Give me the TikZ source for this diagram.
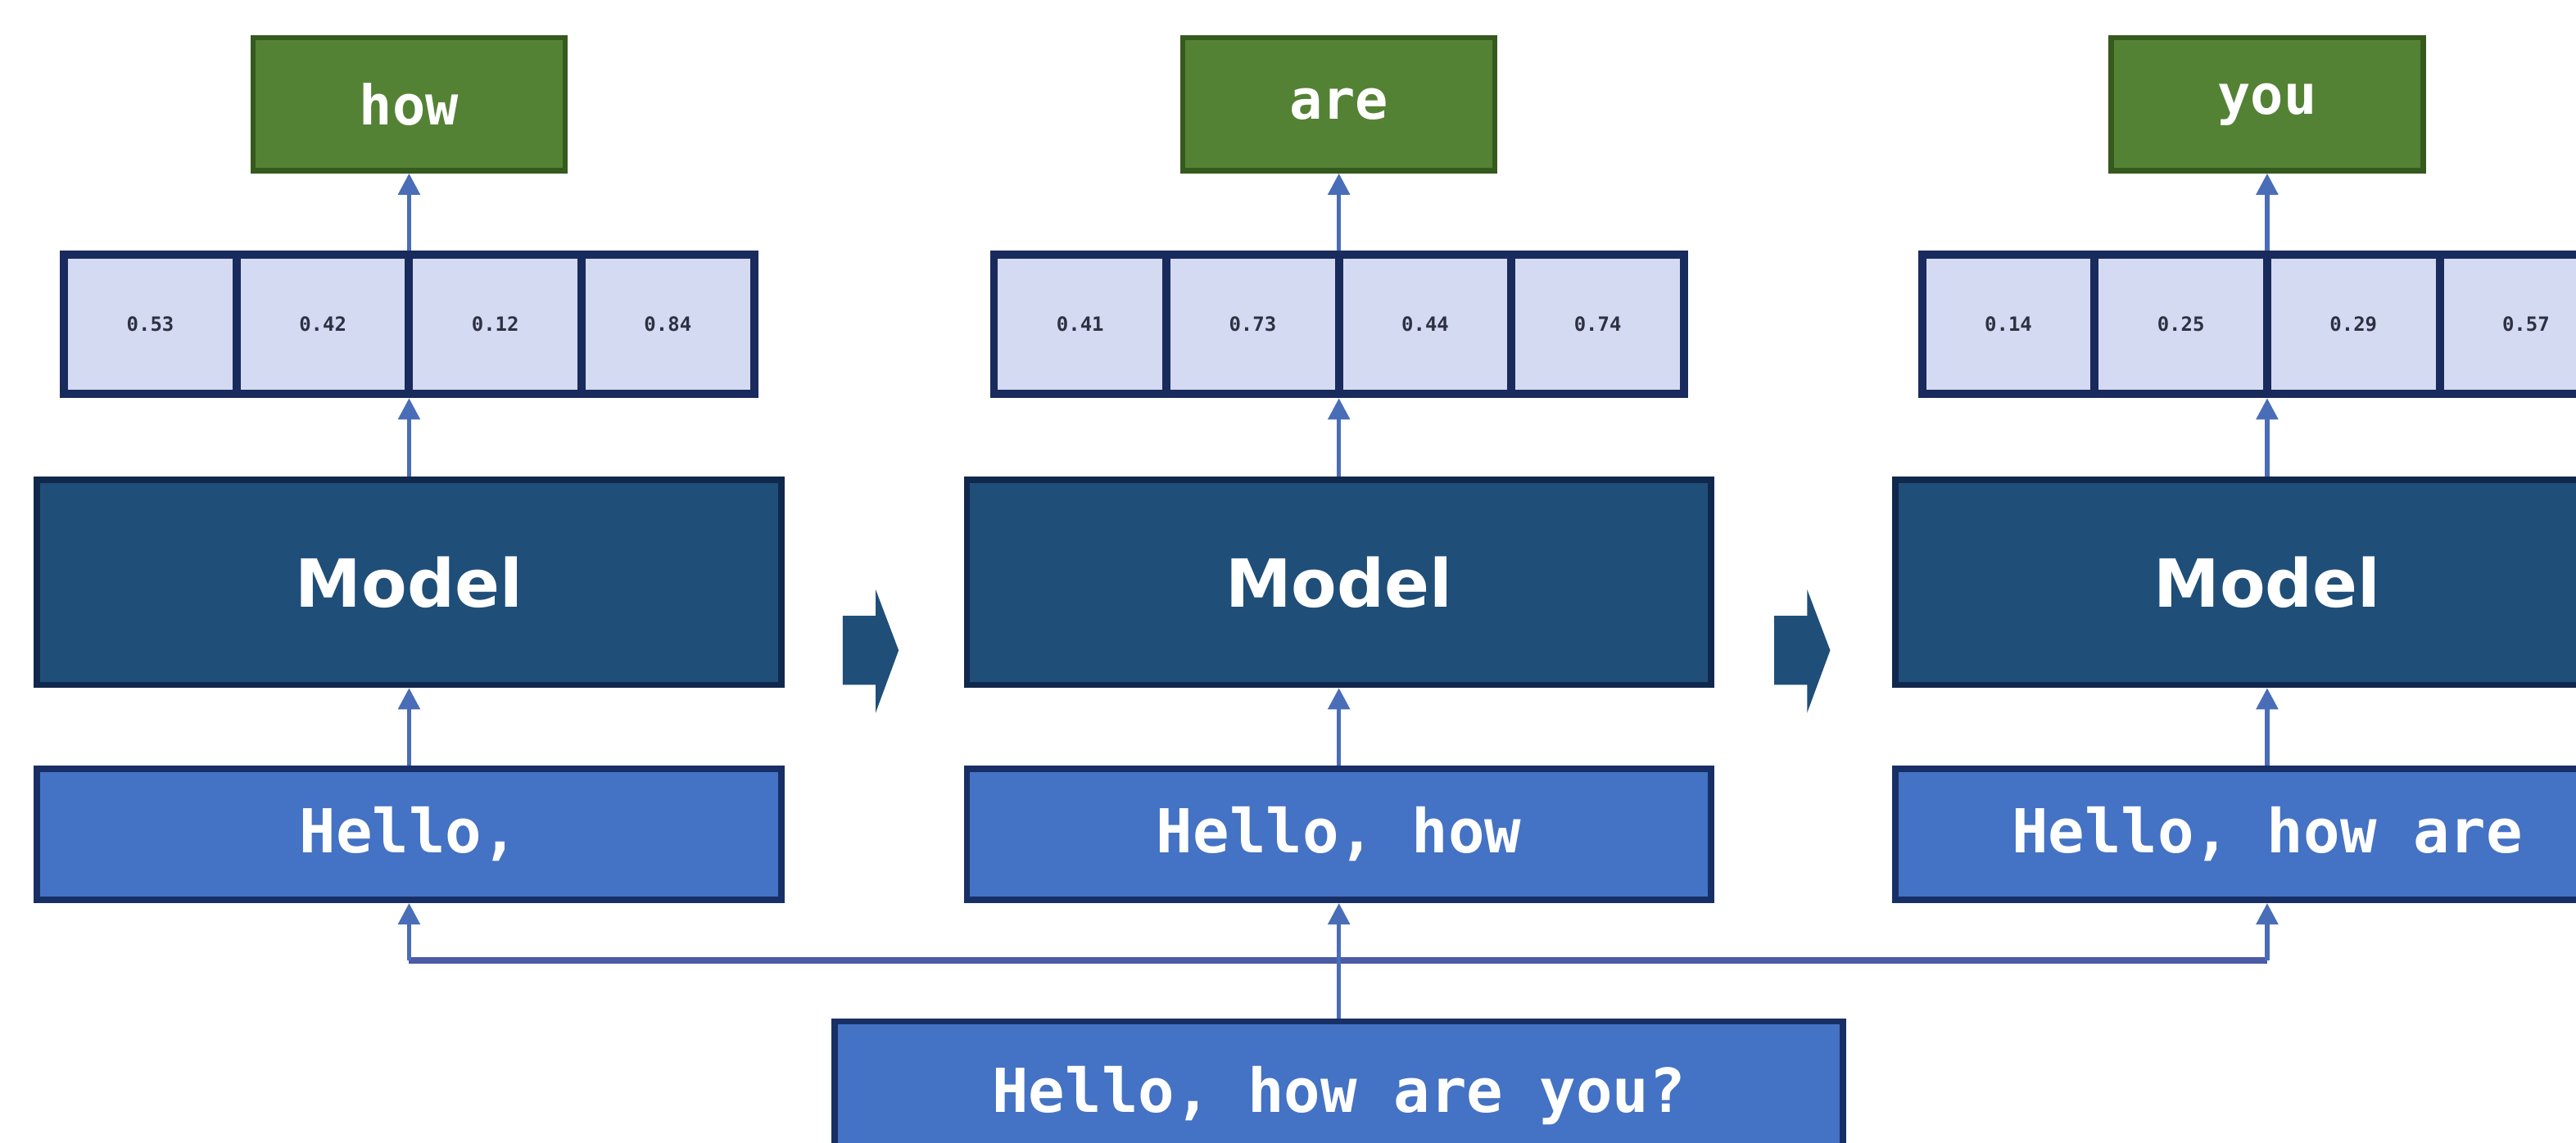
\documentclass[tikz,border=0pt]{standalone}
\usepackage{fontspec}
\setmainfont{DejaVu Sans}
\setmonofont{DejaVu Sans Mono}
\usetikzlibrary{arrows.meta}

\definecolor{modelfill}{HTML}{1F4E79}
\definecolor{modeledge}{HTML}{11284D}
\definecolor{infill}{HTML}{4472C4}
\definecolor{inedge}{HTML}{182F66}
\definecolor{outfill}{HTML}{548235}
\definecolor{outedge}{HTML}{365A1E}
\definecolor{cellfill}{HTML}{D3DAF2}
\definecolor{celledge}{HTML}{192A5C}
\definecolor{celltext}{HTML}{2E3142}
\definecolor{wire}{HTML}{4A6DB8}
\definecolor{buswire}{HTML}{4B5BA6}

\tikzset{
  modelbox/.style={draw=modeledge, line width=2.2pt, fill=modelfill, text=white,
    minimum width=9.06cm, minimum height=2.5cm, inner sep=0pt,
    font=\fontsize{23}{28}\selectfont\bfseries},
  inbox/.style={draw=inedge, line width=2.2pt, fill=infill, text=white,
    minimum width=9.06cm, minimum height=1.6cm, inner sep=0pt,
    font=\fontsize{21}{26}\selectfont\ttfamily\bfseries},
  outbox/.style={draw=outedge, line width=1.8pt, fill=outfill, text=white,
    minimum width=3.8cm, minimum height=1.62cm, inner sep=0pt,
    font=\fontsize{19}{23}\selectfont\ttfamily\bfseries},
  cellbox/.style={draw=celledge, line width=2.8pt, fill=cellfill, text=celltext,
    minimum width=2.1cm, minimum height=1.7cm, inner sep=0pt,
    font=\fontsize{6.8}{8}\selectfont\ttfamily\bfseries},
  arr/.style={draw=wire, line width=1.5pt, -{Triangle[length=0.26cm,width=0.26cm]}},
  bus/.style={draw=buswire, line width=2.2pt},
  stepper/.style={fill=modelfill}
}

\begin{document}
\begin{tikzpicture}[x=0.02cm, y=-0.02cm]
  \useasboundingbox (0,0) rectangle (1568,696);
  \clip (0,0) rectangle (1568,696);
  \fill[white] (0,0) rectangle (1568,696);

  % three decoding steps, one column each
  \foreach \k/\cx/\ctx/\tok/\va/\vb/\vc/\vd in {
      1/249/{Hello,}/how/0.53/0.42/0.12/0.84,
      2/815/{Hello, how}/are/0.41/0.73/0.44/0.74,
      3/1380/{Hello, how are}/you/0.14/0.25/0.29/0.57} {
    \node[outbox] (out\k) at (\cx,63.5) {\tok};
    \node[cellbox] (v\k a) at (\cx-157.5,197.5) {\va};
    \node[cellbox] (v\k b) at (\cx-52.5,197.5) {\vb};
    \node[cellbox] (v\k c) at (\cx+52.5,197.5) {\vc};
    \node[cellbox] (v\k d) at (\cx+157.5,197.5) {\vd};
    \node[modelbox] (m\k) at (\cx,354.5) {Model};
    \node[inbox] (in\k) at (\cx,508) {\ctx};
    \draw[arr] (in\k.north) -- (m\k.south);
    \draw[arr] (m\k.north) -- (m\k.north |- v\k b.south);
    \draw[arr] (out\k.south |- v\k b.north) -- (out\k.south);
  }

  % full sentence feeding every step
  \node[inbox, minimum width=12.28cm, minimum height=1.8cm] (full) at (815,667) {Hello, how are you?};
  \coordinate (busL) at (249,585);
  \coordinate (busR) at (1380,585);
  \draw[bus] (busL) -- (busR);
  \draw[arr] (busL) -- (in1.south);
  \draw[arr] (busR) -- (in3.south);
  \draw[arr] (full.north) -- (in2.south);

  % block arrows between the steps
  \foreach \dx in {0,567} {
    \fill[stepper, xshift=\dx*0.02cm]
      (513,375) -- (533,375) -- (533,359) -- (547,396) -- (533,434)
      -- (533,417) -- (513,417) -- cycle;
  }
\end{tikzpicture}
\end{document}
